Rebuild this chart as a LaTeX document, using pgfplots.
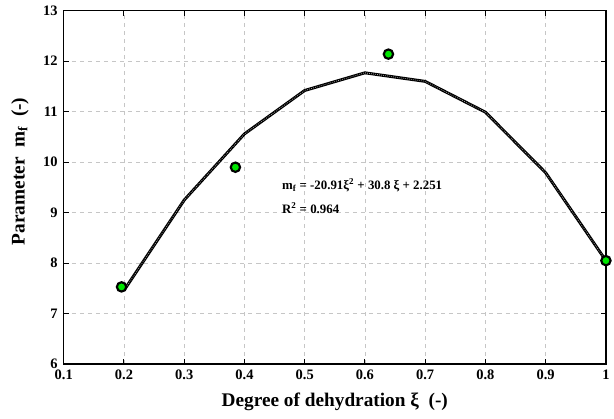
\documentclass[border=0pt]{standalone}
\usepackage{fontspec}
\setmainfont{Liberation Serif}
\usepackage{pgfplots}
\pgfplotsset{compat=1.18}

\definecolor{ptgreen}{RGB}{0,230,0}

\begin{document}
\begin{tikzpicture}
\begin{axis}[
  scale only axis,
  width=405pt, height=264pt,
  xmin=0.1, xmax=1,
  ymin=6, ymax=13,
  xtick={0.1,0.2,0.3,0.4,0.5,0.6,0.7,0.8,0.9,1},
  xticklabels={0.1,0.2,0.3,0.4,0.5,0.6,0.7,0.8,0.9,1},
  ytick={6,7,8,9,10,11,12,13},
  tick align=inside,
  tick style={black, line width=0.8pt},
  major tick length=4pt,
  axis line style={line width=1pt},
  grid=major,
  grid style={dashed, gray!45, line width=0.5pt},
  ticklabel style={font=\bfseries\fontsize{10.8}{12}\selectfont},
  yticklabel style={xshift=-1pt},
  xticklabel style={yshift=-1pt},
  /pgf/number format/assume math mode=true,
  xlabel={\bfseries Degree of dehydration ξ\ \ (-)},
  ylabel={\bfseries Parameter\ \ m\textsubscript{f}\ \ (-)},
  label style={font=\bfseries\Large},
  xlabel style={yshift=-3pt},
  ylabel style={yshift=4pt, xshift=12pt},
]

% fitted curve
\addplot[black, line width=2.2pt, line join=round] coordinates {
  (0.2,7.46) (0.3,9.25) (0.4,10.56) (0.5,11.42) (0.6,11.77)
  (0.7,11.60) (0.8,10.99) (0.9,9.79) (1.0,8.05)
};
\addplot[gray!70, line width=0.6pt, dash pattern=on 0.5pt off 1.0pt] coordinates {
  (0.2,7.46) (0.3,9.25) (0.4,10.56) (0.5,11.42) (0.6,11.77)
  (0.7,11.60) (0.8,10.99) (0.9,9.79) (1.0,8.05)
};

% measured points
\addplot[only marks, mark=*, mark size=3.5pt,
  mark options={fill=ptgreen, draw=black, line width=1.6pt}] coordinates {
  (0.196,7.53) (0.385,9.90) (0.639,12.14) (1.0,8.05)
};

\node[anchor=west, font=\bfseries\fontsize{9.6}{11}\selectfont, inner sep=0pt] at (axis cs:0.462,9.54)
  {m\textsubscript{f} = -20.91ξ\textsuperscript{2} + 30.8 ξ + 2.251};
\node[anchor=west, font=\bfseries\fontsize{9.6}{11}\selectfont, inner sep=0pt] at (axis cs:0.462,9.09)
  {R\textsuperscript{2} = 0.964};

\end{axis}
% page margins as in the reference
\path ([xshift=-5pt]current axis.outer west);
\path ([yshift=8pt]current axis.north);
\path ([yshift=-2pt]current axis.outer south);
\end{tikzpicture}
\end{document}
